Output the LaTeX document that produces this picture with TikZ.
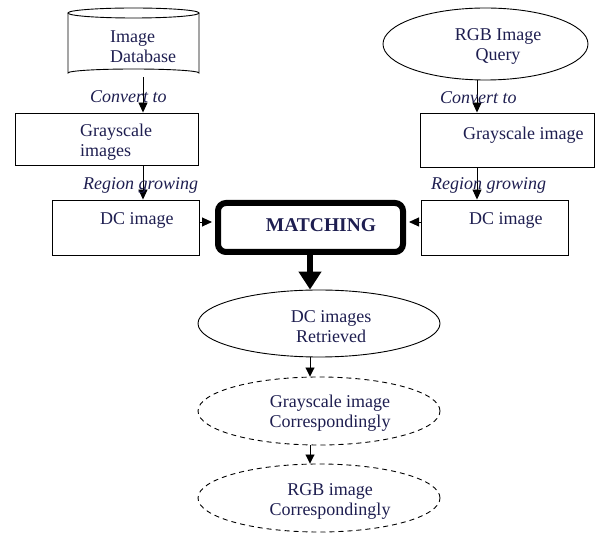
\documentclass[tikz,border=0pt]{standalone}
\usepackage{fontspec}
\setmainfont{Liberation Serif}
\usetikzlibrary{arrows.meta,shapes.geometric}
\definecolor{txt}{RGB}{30,30,80}
\tikzset{
  box/.style={draw,line width=0.9pt,rectangle,inner sep=0pt},
  ell/.style={draw,line width=0.9pt,ellipse,inner sep=0pt},
  dell/.style={ell,dash pattern=on 5pt off 4pt},
  txtn/.style={text=txt,font=\fontsize{18}{20}\selectfont,inner sep=0pt},
  lbl/.style={text=txt,font=\fontsize{18}{20}\selectfont\itshape,inner sep=0pt},
  arr/.style={line width=0.9pt,-{Triangle[length=10pt,width=9pt]}},
  sarr/.style={line width=0.9pt,-{Triangle[length=9pt,width=9pt]}},
  bigarr/.style={line width=6pt,-{Triangle[length=18pt,width=22pt]}}
}
\begin{document}
\begin{tikzpicture}[x=1pt,y=-1pt]
\useasboundingbox (0,0) rectangle (595,534);
% cylinder (Image Database)
\draw[line width=0.9pt] (68,13) -- (68,73) arc[start angle=180,end angle=360,x radius=65.5,y radius=4] -- (199,13);
\draw[line width=0.9pt] (133.5,13) ellipse[x radius=65.5,y radius=5];
\node[inner sep=0pt,minimum width=131pt,minimum height=69pt] (db) at (133.5,42.5) {};
% boxes
\node[box,minimum width=183pt,minimum height=52pt] (gs1) at (106.5,139) {};
\node[box,minimum width=147pt,minimum height=55pt] (dc1) at (125.5,227.5) {};
\node[draw,line width=6pt,rounded corners=8pt,minimum width=185pt,minimum height=49pt,inner sep=0pt] (match) at (310.5,227.5) {};
\node[ell,minimum width=205pt,minimum height=72pt] (q) at (485.5,44) {};
\node[box,minimum width=174pt,minimum height=54pt] (gs2) at (507,140) {};
\node[box,minimum width=147pt,minimum height=55pt] (dc2) at (494.5,227.5) {};
\node[ell,minimum width=242pt,minimum height=67pt] (ret) at (319,323.5) {};
\node[dell,minimum width=242pt,minimum height=68pt] (gsc) at (319,411) {};
\node[dell,minimum width=242pt,minimum height=68pt] (rgbc) at (319,498) {};
% texts
\node[txtn,anchor=west,align=left] (t1) at (110,47) {Image\\Database};
\node[txtn,anchor=west,align=left] (t2) at (80,142.5) {Grayscale\\images};
\node[txtn,anchor=west] (t3) at (100,220) {DC image};
\node[txtn,anchor=west] (t4) at (469,220) {DC image};
\node[txtn,anchor=west] (t5) at (463,135) {Grayscale image};
\node[txtn,align=center] (t6) at (498,46) {RGB Image\\Query};
\node[txtn,font=\fontsize{19.5}{20}\selectfont\bfseries] (t7) at (321,225) {MATCHING};
\node[txtn,align=center] (t8) at (331,327) {DC images\\Retrieved};
\node[txtn,align=center] (t9) at (330,413) {Grayscale image\\Correspondingly};
\node[txtn,align=center] (t10) at (330,501) {RGB image\\Correspondingly};
% arrow columns
\coordinate (cl) at (143,0);
\coordinate (cr) at (477,0);
\coordinate (cc) at (310,0);
% connectors
\draw[arr] (db.south -| cl) -- (gs1.north -| cl);
\draw[arr] (gs1.south -| cl) -- (dc1.north -| cl);
\draw[arr] (q.south -| cr) -- (gs2.north -| cr);
\draw[arr] (gs2.south -| cr) -- (dc2.north -| cr);
\draw[arr] (dc1.east |- 0,222) -- ([xshift=-3pt]match.west |- 0,222);
\draw[arr] (dc2.west |- 0,222) -- ([xshift=3pt]match.east |- 0,222);
\draw[bigarr] ([yshift=3pt]match.south -| cc) -- (ret.north -| cc);
\draw[sarr] (ret.south -| cc) -- (gsc.north -| cc);
\draw[sarr] (gsc.south -| cc) -- (rgbc.north -| cc);
% labels
\node[lbl,anchor=west] (l1) at (90,97) {Convert to};
\node[lbl,anchor=west] (l2) at (83,185) {Region growing};
\node[lbl,anchor=west] (l3) at (440,98) {Convert to};
\node[lbl,anchor=west] (l4) at (431,185) {Region growing};
\end{tikzpicture}
\end{document}
